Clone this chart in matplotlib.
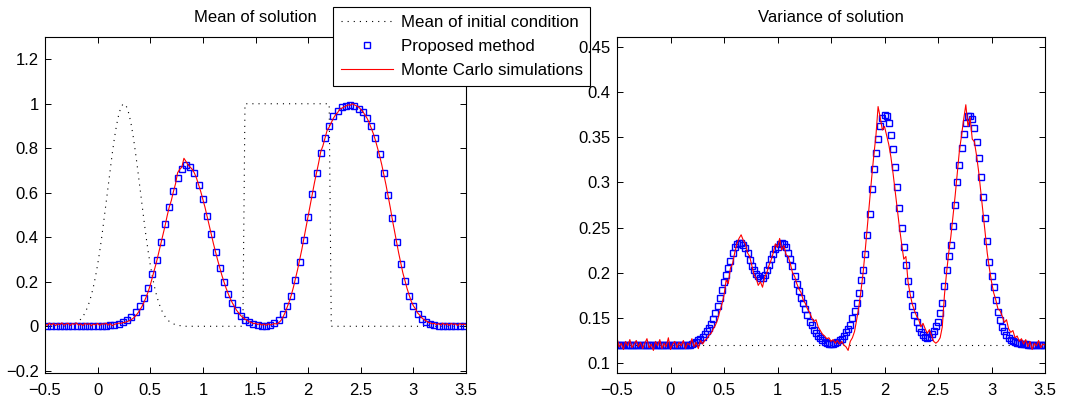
import matplotlib
matplotlib.use("Agg")
import matplotlib.pyplot as plt
import numpy as np

plt.rcParams['font.family'] = ['Liberation Sans', 'DejaVu Sans']
plt.rcParams['font.size'] = 12

# fine grid (step 0.02) shared by the Monte Carlo curves, initial condition and variance markers
x_fine = np.linspace(-0.5, 3.5, 201)
# coarse grid (step 0.04) of the proposed method markers in the mean panel
x_mean_sq = np.linspace(-0.48, 3.48, 100)

# ---- Mean of solution ----
mean_init = [
    0, 0, 0, 0, 0, 0, 0, 0, 0, 0,                                              # -0.50
    0.002, 0.003, 0.005, 0.007, 0.011, 0.016, 0.022, 0.032, 0.044, 0.060,      # -0.30
    0.081, 0.107, 0.139, 0.178, 0.224, 0.277, 0.337, 0.404, 0.477, 0.553,      # -0.10
    0.630, 0.707, 0.780, 0.847, 0.904, 0.950, 0.982, 0.998, 0.998, 0.982,      # 0.10
    0.950, 0.904, 0.847, 0.780, 0.707, 0.630, 0.553, 0.477, 0.404, 0.337,      # 0.30
    0.277, 0.224, 0.178, 0.139, 0.107, 0.081, 0.060, 0.044, 0.032, 0.022,      # 0.50
    0.016, 0.011, 0.007, 0.005, 0.003, 0.002, 0, 0, 0, 0,                      # 0.70
    0, 0, 0, 0, 0, 0, 0, 0, 0, 0,                                              # 0.90
    0, 0, 0, 0, 0, 0, 0, 0, 0, 0,                                              # 1.10
    0, 0, 0, 0, 0, 1, 1, 1, 1, 1,                                              # 1.30
    1, 1, 1, 1, 1, 1, 1, 1, 1, 1,                                              # 1.50
    1, 1, 1, 1, 1, 1, 1, 1, 1, 1,                                              # 1.70
    1, 1, 1, 1, 1, 1, 1, 1, 1, 1,                                              # 1.90
    1, 1, 1, 1, 1, 1, 0, 0, 0, 0,                                              # 2.10
    0, 0, 0, 0, 0, 0, 0, 0, 0, 0,                                              # 2.30
    0, 0, 0, 0, 0, 0, 0, 0, 0, 0,                                              # 2.50
    0, 0, 0, 0, 0, 0, 0, 0, 0, 0,                                              # 2.70
    0, 0, 0, 0, 0, 0, 0, 0, 0, 0,                                              # 2.90
    0, 0, 0, 0, 0, 0, 0, 0, 0, 0,                                              # 3.10
    0, 0, 0, 0, 0, 0, 0, 0, 0, 0,                                              # 3.30
    0,                                                                         # 3.50
]

mean_proposed = [
    0, 0, 0, 0, 0, 0, 0, 0, 0, 0,                                              # -0.48
    0, 0, 0, 0.001, 0.002, 0.004, 0.007, 0.011, 0.017, 0.027,                  # -0.08
    0.042, 0.062, 0.090, 0.128, 0.174, 0.233, 0.300, 0.378, 0.458, 0.535,      # 0.32
    0.608, 0.665, 0.706, 0.725, 0.718, 0.688, 0.635, 0.570, 0.495, 0.413,      # 0.72
    0.335, 0.264, 0.200, 0.147, 0.105, 0.072, 0.048, 0.030, 0.018, 0.010,      # 1.12
    0.005, 0.003, 0.003, 0.006, 0.015, 0.030, 0.054, 0.090, 0.138, 0.207,      # 1.52
    0.290, 0.387, 0.490, 0.595, 0.690, 0.778, 0.848, 0.900, 0.943, 0.968,      # 1.92
    0.985, 0.990, 0.994, 0.988, 0.977, 0.965, 0.938, 0.898, 0.845, 0.775,      # 2.32
    0.688, 0.589, 0.485, 0.380, 0.282, 0.203, 0.137, 0.090, 0.057, 0.032,      # 2.72
    0.018, 0.009, 0.004, 0.002, 0, 0, 0, 0, 0, 0,                              # 3.12
]

mean_mc = [
    0.012, 0.004, 0.014, 0.006, 0.013, 0.003, 0.011, 0.007, 0.015, 0.005,      # -0.50
    0.010, 0.014, 0.004, 0.012, 0.008, 0.015, 0.005, 0.011, 0.003, 0.013,      # -0.30
    0.008, 0.012, 0.002, 0.010, 0.006, 0.013, 0.004, 0.011, 0.009, 0.014,      # -0.10
    0.005, 0.012, 0.002, 0.009, 0.011, 0.014, 0.013, 0.016, 0.018, 0.021,      # 0.10
    0.025, 0.030, 0.037, 0.046, 0.058, 0.072, 0.088, 0.108, 0.130, 0.155,      # 0.30
    0.185, 0.220, 0.255, 0.290, 0.330, 0.370, 0.410, 0.450, 0.495, 0.535,      # 0.50
    0.565, 0.605, 0.640, 0.690, 0.705, 0.715, 0.755, 0.740, 0.725, 0.715,      # 0.70
    0.705, 0.688, 0.665, 0.635, 0.605, 0.570, 0.535, 0.495, 0.455, 0.413,      # 0.90
    0.372, 0.335, 0.298, 0.264, 0.230, 0.200, 0.172, 0.147, 0.125, 0.105,      # 1.10
    0.088, 0.072, 0.060, 0.048, 0.040, 0.032, 0.026, 0.020, 0.017, 0.012,      # 1.30
    0.014, 0.008, 0.012, 0.005, 0.010, 0.004, 0.011, 0.006, 0.009, 0.012,      # 1.50
    0.010, 0.016, 0.025, 0.040, 0.060, 0.085, 0.110, 0.140, 0.175, 0.215,      # 1.70
    0.255, 0.300, 0.345, 0.395, 0.445, 0.495, 0.545, 0.595, 0.645, 0.690,      # 1.90
    0.735, 0.785, 0.810, 0.845, 0.880, 0.895, 0.915, 0.935, 0.950, 0.960,      # 2.10
    0.975, 0.980, 0.985, 0.990, 0.995, 0.993, 1.000, 0.995, 0.990, 0.985,      # 2.30
    0.975, 0.965, 0.950, 0.935, 0.915, 0.890, 0.865, 0.835, 0.800, 0.765,      # 2.50
    0.725, 0.680, 0.635, 0.585, 0.535, 0.480, 0.430, 0.380, 0.330, 0.285,      # 2.70
    0.240, 0.205, 0.170, 0.140, 0.112, 0.092, 0.078, 0.060, 0.050, 0.038,      # 2.90
    0.030, 0.025, 0.018, 0.015, 0.011, 0.013, 0.007, 0.012, 0.005, 0.014,      # 3.10
    0.006, 0.012, 0.004, 0.013, 0.008, 0.011, 0.003, 0.012, 0.007, 0.010,      # 3.30
    0.006,                                                                     # 3.50
]

# ---- Variance of solution ----
var_init = [0.12] * len(x_fine)

var_proposed = [
    0.12, 0.12, 0.12, 0.12, 0.12, 0.12, 0.12, 0.12, 0.12, 0.12,                # -0.50
    0.12, 0.12, 0.12, 0.12, 0.12, 0.12, 0.12, 0.12, 0.12, 0.12,                # -0.30
    0.12, 0.12, 0.12, 0.12, 0.12, 0.12, 0.12, 0.12, 0.12, 0.12,                # -0.10
    0.12, 0.12, 0.12, 0.12, 0.12, 0.121, 0.122, 0.123, 0.125, 0.127,           # 0.10
    0.129, 0.132, 0.135, 0.139, 0.143, 0.149, 0.155, 0.163, 0.172, 0.181,      # 0.30
    0.190, 0.198, 0.205, 0.213, 0.222, 0.229, 0.232, 0.233, 0.233, 0.231,      # 0.50
    0.227, 0.222, 0.214, 0.208, 0.203, 0.199, 0.196, 0.194, 0.194, 0.197,      # 0.70
    0.203, 0.209, 0.215, 0.221, 0.226, 0.229, 0.232, 0.233, 0.232, 0.228,      # 0.90
    0.222, 0.215, 0.207, 0.196, 0.188, 0.180, 0.172, 0.166, 0.160, 0.153,      # 1.10
    0.146, 0.142, 0.137, 0.133, 0.130, 0.128, 0.125, 0.123, 0.122, 0.121,      # 1.30
    0.121, 0.121, 0.122, 0.123, 0.125, 0.127, 0.130, 0.134, 0.138, 0.142,      # 1.50
    0.150, 0.158, 0.166, 0.178, 0.192, 0.203, 0.221, 0.242, 0.265, 0.293,      # 1.70
    0.315, 0.333, 0.348, 0.362, 0.371, 0.375, 0.373, 0.366, 0.353, 0.337,      # 1.90
    0.317, 0.295, 0.272, 0.250, 0.229, 0.209, 0.191, 0.176, 0.163, 0.153,      # 2.10
    0.145, 0.139, 0.134, 0.131, 0.129, 0.128, 0.129, 0.132, 0.136, 0.141,      # 2.30
    0.146, 0.155, 0.166, 0.185, 0.203, 0.218, 0.231, 0.252, 0.275, 0.300,      # 2.50
    0.319, 0.338, 0.354, 0.366, 0.374, 0.374, 0.370, 0.360, 0.345, 0.327,      # 2.70
    0.306, 0.284, 0.261, 0.235, 0.212, 0.196, 0.184, 0.170, 0.156, 0.148,      # 2.90
    0.140, 0.136, 0.131, 0.128, 0.125, 0.124, 0.123, 0.122, 0.122, 0.121,      # 3.10
    0.121, 0.121, 0.12, 0.12, 0.12, 0.12, 0.12, 0.12, 0.12, 0.12,              # 3.30
    0.12,                                                                      # 3.50
]

var_mc = [
    0.128, 0.118, 0.122, 0.115, 0.124, 0.119, 0.126, 0.117, 0.121, 0.125,      # -0.50
    0.118, 0.123, 0.116, 0.122, 0.127, 0.117, 0.121, 0.114, 0.124, 0.119,      # -0.30
    0.126, 0.116, 0.122, 0.118, 0.128, 0.115, 0.121, 0.124, 0.117, 0.123,      # -0.10
    0.119, 0.125, 0.116, 0.122, 0.120, 0.127, 0.118, 0.123, 0.116, 0.125,      # 0.10
    0.121, 0.125, 0.127, 0.131, 0.133, 0.138, 0.142, 0.148, 0.157, 0.165,      # 0.30
    0.175, 0.192, 0.188, 0.205, 0.210, 0.222, 0.232, 0.238, 0.242, 0.236,      # 0.50
    0.232, 0.222, 0.218, 0.208, 0.198, 0.194, 0.186, 0.190, 0.184, 0.195,      # 0.70
    0.200, 0.208, 0.214, 0.222, 0.232, 0.228, 0.238, 0.225, 0.230, 0.220,      # 0.90
    0.218, 0.210, 0.200, 0.196, 0.188, 0.182, 0.178, 0.170, 0.166, 0.160,      # 1.10
    0.156, 0.150, 0.146, 0.148, 0.140, 0.136, 0.132, 0.130, 0.127, 0.128,      # 1.30
    0.124, 0.126, 0.122, 0.125, 0.121, 0.124, 0.120, 0.118, 0.114, 0.124,      # 1.50
    0.128, 0.135, 0.148, 0.162, 0.180, 0.200, 0.225, 0.252, 0.280, 0.305,      # 1.70
    0.330, 0.352, 0.384, 0.372, 0.358, 0.362, 0.352, 0.342, 0.328, 0.310,      # 1.90
    0.290, 0.270, 0.250, 0.232, 0.215, 0.218, 0.190, 0.176, 0.165, 0.158,      # 2.10
    0.152, 0.148, 0.140, 0.144, 0.138, 0.133, 0.137, 0.130, 0.124, 0.122,      # 2.30
    0.124, 0.128, 0.140, 0.175, 0.200, 0.222, 0.240, 0.262, 0.285, 0.310,      # 2.50
    0.335, 0.352, 0.370, 0.386, 0.362, 0.372, 0.348, 0.345, 0.330, 0.312,      # 2.70
    0.290, 0.268, 0.245, 0.222, 0.205, 0.190, 0.178, 0.170, 0.160, 0.158,      # 2.90
    0.152, 0.145, 0.148, 0.138, 0.134, 0.136, 0.128, 0.130, 0.124, 0.127,      # 3.10
    0.121, 0.126, 0.118, 0.124, 0.115, 0.122, 0.119, 0.125, 0.117, 0.121,      # 3.30
    0.120,                                                                     # 3.50
]

W, H = 1071, 403
fig = plt.figure(figsize=(W / 100, H / 100), dpi=100)
ax1 = fig.add_axes([45 / W, 1 - 373 / H, 421 / W, 336 / H])
ax2 = fig.add_axes([617 / W, 1 - 373 / H, 428 / W, 336 / H])

dot_style = dict(color='k', lw=0.8, linestyle=(0, (1, 4.5)))
sq_style = dict(linestyle='none', marker='s', ms=4.3, mfc='none', mec='#0000ff', mew=1.0)
mc_style = dict(color='r', lw=0.8)


def fmt(v, pos):
    return ('%g' % v).replace('-', '\u2212')


def style_axes(ax):
    ax.set_xlim(-0.5, 3.5)
    ax.set_xticks(np.arange(-0.5, 3.51, 0.5))
    ax.xaxis.set_major_formatter(plt.FuncFormatter(fmt))
    ax.yaxis.set_major_formatter(plt.FuncFormatter(fmt))
    ax.tick_params(direction='in', top=True, right=True, length=4, width=0.7,
                   labelsize=12)
    ax.tick_params(axis='x', pad=7)
    ax.tick_params(axis='y', pad=4.5)
    for s in ax.spines.values():
        s.set_linewidth(0.8)


# left panel
l1, = ax1.plot(x_fine, mean_init, **dot_style, label='Mean of initial condition')
l2, = ax1.plot(x_mean_sq, mean_proposed, **sq_style, label='Proposed method')
l3, = ax1.plot(x_fine, mean_mc, **mc_style, label='Monte Carlo simulations')
style_axes(ax1)
ax1.set_ylim(-0.21, 1.3)
ax1.set_yticks(np.arange(-0.2, 1.21, 0.2))
ax1.set_title('Mean of solution', fontsize=12, pad=10.5)

# right panel
ax2.plot(x_fine, var_init, **dot_style)
ax2.plot(x_fine, var_proposed, **sq_style)
ax2.plot(x_fine, var_mc, **mc_style)
style_axes(ax2)
ax2.set_ylim(0.089, 0.461)
ax2.set_yticks(np.arange(0.1, 0.451, 0.05))
ax2.set_title('Variance of solution', fontsize=12, pad=10.5)

leg = ax1.legend(handles=[l1, l2, l3], loc='upper left',
                 bbox_to_anchor=(333 / W, 1 - 7 / H), bbox_transform=fig.transFigure,
                 fancybox=False, edgecolor='k', framealpha=1, borderaxespad=0,
                 handlelength=3.1, handletextpad=0.45, labelspacing=0.55,
                 borderpad=0.45, numpoints=1, fontsize=12.2)
leg.get_frame().set_linewidth(0.8)

fig.savefig('out.png', dpi=100)
